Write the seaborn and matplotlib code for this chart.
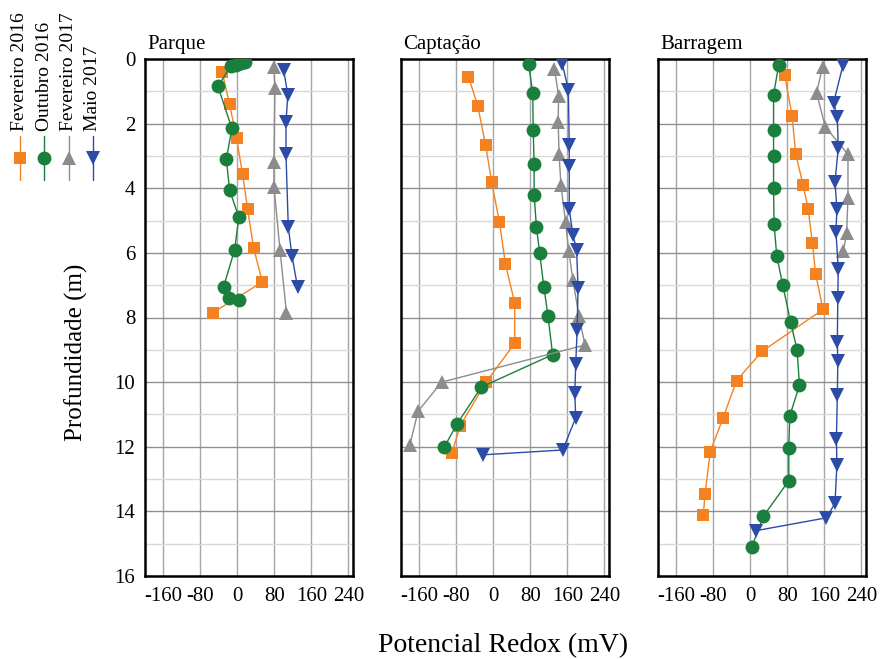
import numpy as np
import pandas as pd
import matplotlib
matplotlib.use('Agg')
import matplotlib.pyplot as plt
import seaborn as sns

# campaigns / sites
campanhas = ['Fevereiro 2016', 'Outubro 2016', 'Fevereiro 2017', 'Maio 2017']
locais = ['Parque', 'Captação', 'Barragem']
cores = ['#F58220', '#1A7F3C', '#8C8C8C', '#2B4BA6']
marcadores = ['s', 'o', '^', 'v']
tamanhos = [9, 10, 10.5, 10.5]

# Parque
parque_f16_prof = [0.4, 1.4, 2.45, 3.55, 4.65, 5.85, 6.9, 7.85]
parque_f16_eh = [-33, -17, -2, 11, 22, 35, 54, -53]
parque_o16_prof = [0.1, 0.13, 0.18, 0.22, 0.85, 2.15, 3.1, 4.05, 4.9, 5.9, 7.05, 7.4, 7.45]
parque_o16_eh = [17, 7, -4, -15, -42, -12, -24, -17, 3, -6, -30, -19, 3]
parque_f17_prof = [0.25, 0.9, 3.2, 3.95, 5.9, 7.85]
parque_f17_eh = [79, 81, 79, 79, 92, 106]
parque_m17_prof = [0.35, 1.1, 1.95, 2.95, 5.2, 6.1, 7.05]
parque_m17_eh = [100, 109, 105, 105, 110, 118, 130]

# Captação
capt_f16_prof = [0.55, 1.45, 2.65, 3.8, 5.05, 6.35, 7.55, 8.8, 10.0, 11.35, 12.2]
capt_f16_eh = [-54, -34, -17, -4, 13, 26, 46, 46, -16, -72, -90]
capt_o16_prof = [0.15, 1.05, 2.2, 3.25, 4.2, 5.2, 6.0, 7.05, 7.95, 9.15, 10.15, 11.3, 12.0]
capt_o16_eh = [76, 85, 86, 88, 88, 93, 100, 109, 118, 128, -26, -79, -106]
capt_f17_prof = [0.3, 1.15, 1.95, 2.95, 3.9, 5.05, 5.95, 6.85, 7.95, 8.85, 10.0, 10.9, 11.95]
capt_f17_eh = [132, 141, 140, 142, 146, 156, 163, 172, 185, 198, -112, -163, -181]
capt_m17_prof = [0.15, 0.95, 2.65, 3.3, 4.65, 5.45, 5.9, 7.1, 8.4, 9.45, 10.35, 11.1, 12.1, 12.25]
capt_m17_eh = [149, 162, 164, 164, 164, 172, 180, 183, 181, 178, 176, 178, 150, -23]

# Barragem
barr_f16_prof = [0.5, 1.75, 2.95, 3.9, 4.65, 5.7, 6.65, 7.75, 9.05, 9.95, 11.1, 12.15, 13.45, 14.1]
barr_f16_eh = [74, 90, 98, 114, 125, 134, 141, 157, 25, -30, -59, -87, -98, -102]
barr_o16_prof = [0.2, 1.1, 2.2, 3.0, 4.0, 5.1, 6.1, 7.0, 8.15, 9.0, 10.1, 11.05, 12.05, 13.05, 14.15, 15.1]
barr_o16_eh = [61, 50, 50, 50, 50, 51, 57, 70, 87, 101, 106, 85, 83, 83, 28, 3]
barr_f17_prof = [0.25, 1.05, 2.1, 2.95, 4.3, 5.4, 5.95]
barr_f17_eh = [156, 143, 162, 211, 211, 208, 201]
barr_m17_prof = [0.2, 1.35, 1.8, 2.75, 3.8, 4.65, 5.35, 6.5, 7.4, 8.75, 9.35, 10.4, 11.75, 12.55, 13.75, 14.2, 14.6]
barr_m17_eh = [200, 180, 188, 190, 183, 187, 185, 190, 189, 188, 189, 188, 186, 187, 183, 164, 11]

x_ticks = [-160, -80, 0, 80, 160, 240]
y_ticks = [0, 2, 4, 6, 8, 10, 12, 14, 16]

series = {
    'Parque': [(parque_f16_prof, parque_f16_eh), (parque_o16_prof, parque_o16_eh),
               (parque_f17_prof, parque_f17_eh), (parque_m17_prof, parque_m17_eh)],
    'Captação': [(capt_f16_prof, capt_f16_eh), (capt_o16_prof, capt_o16_eh),
                 (capt_f17_prof, capt_f17_eh), (capt_m17_prof, capt_m17_eh)],
    'Barragem': [(barr_f16_prof, barr_f16_eh), (barr_o16_prof, barr_o16_eh),
                 (barr_f17_prof, barr_f17_eh), (barr_m17_prof, barr_m17_eh)],
}

rows = []
for local in locais:
    for camp, (prof, eh) in zip(campanhas, series[local]):
        for p, e in zip(prof, eh):
            rows.append({'local': local, 'campanha': camp, 'prof': p, 'eh': e})
df = pd.DataFrame(rows)

sns.set_theme(style='white')
plt.rcParams['font.family'] = ['Liberation Serif', 'DejaVu Serif']
plt.rcParams['axes.unicode_minus'] = False
plt.rcParams['text.color'] = 'black'
plt.rcParams['xtick.color'] = 'black'
plt.rcParams['ytick.color'] = 'black'

fig = plt.figure(figsize=(8.8, 6.59), dpi=100)
W, H = 880, 659
lefts = [145, 401, 658]
palette = dict(zip(campanhas, cores))
markers = dict(zip(campanhas, marcadores))
size_by_marker = dict(zip(marcadores, tamanhos))

for i, local in enumerate(locais):
    ax = fig.add_axes([lefts[i] / W, 1 - 576 / H, 208 / W, 517 / H])
    sub = df[df['local'] == local]
    sns.lineplot(data=sub, x='eh', y='prof', hue='campanha', style='campanha',
                 hue_order=campanhas, style_order=campanhas, palette=palette,
                 markers=markers, dashes=False, sort=False, estimator=None,
                 linewidth=1.0, markersize=10, markeredgewidth=0, legend=False, ax=ax, zorder=3)
    # squares a bit smaller, triangles a bit bigger
    for ln in ax.lines:
        m = ln.get_marker()
        if m in size_by_marker:
            ln.set_markersize(size_by_marker[m])
    ax.set_xlim(-200, 250)
    ax.set_ylim(16, 0)
    ax.set_xticks(x_ticks)
    ax.set_xticklabels([str(t) for t in x_ticks], fontsize=15, color='black')
    ax.set_yticks(y_ticks)
    ax.set_yticks(np.arange(1, 16, 2), minor=True)
    if i == 0:
        ax.set_yticklabels([str(t) for t in y_ticks], fontsize=15, color='black')
    else:
        ax.set_yticklabels([])
    ax.tick_params(axis='both', which='both', length=0)
    ax.tick_params(axis='x', pad=8)
    ax.tick_params(axis='y', pad=7)
    ax.grid(axis='x', color='#a6a6a6', linewidth=1.0)
    ax.grid(axis='y', which='major', color='#8f8f8f', linewidth=1.0)
    ax.grid(axis='y', which='minor', color='#d9d9d9', linewidth=1.0)
    ax.set_axisbelow(True)
    for s in ax.spines.values():
        s.set_color('black')
        s.set_linewidth(1.8)
    ax.set_xlabel('')
    ax.set_ylabel('')
    ax.text(0.01, 1.01, local, transform=ax.transAxes, ha='left', va='bottom',
            fontsize=15, color='black')

fig.text(0.572, 0.02, 'Potencial Redox (mV)', ha='center', va='center', fontsize=20, color='black')
fig.text(0.087, 0.465, 'Profundidade (m)', ha='center', va='center', rotation=90,
         fontsize=18, color='black')

# vertical legend on the left
lax = fig.add_axes([0, 1 - 185 / H, 115 / W, 185 / H])
lax.set_xlim(0, 115)
lax.set_ylim(185, 0)
lax.axis('off')
for k, camp in enumerate(campanhas):
    xc = 20 + 24.3 * k
    lax.plot([xc, xc], [136, 180], color=cores[k], linewidth=1.0)
    lax.plot([xc], [158], marker=marcadores[k], color=cores[k], markersize=tamanhos[k],
             markeredgewidth=0)
    lax.text(xc, 131, camp, rotation=90, ha='center', va='bottom', fontsize=14, color='black')

fig.savefig('out.png', dpi=100)
